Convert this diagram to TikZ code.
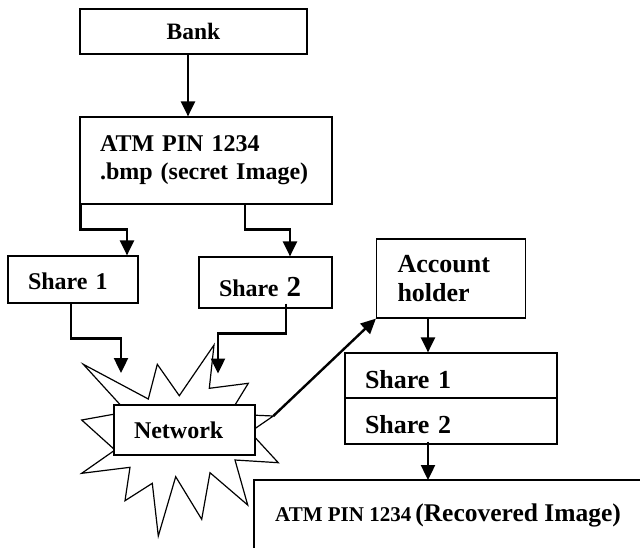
\documentclass[tikz,border=0pt]{standalone}
\usepackage{fontspec}
\setmainfont{Liberation Serif}
\usetikzlibrary{arrows.meta}
\newcommand\myfs[2]{\fontsize{#1}{#2}\selectfont}
\newcommand\shiftdown[2]{\raisebox{-#1pt}[\height][\depth]{#2}}
\begin{document}
\begin{tikzpicture}[x=1pt,y=-1pt,
  box/.style={draw, line width=1.2pt, inner sep=0pt, fill=white},
  lbox/.style={box, align=left, inner xsep=20pt},
  arr/.style={line width=2.4pt, line join=miter, -{Triangle[length=15pt,width=14pt]}},
  thin/.style={line width=1.2pt, line join=miter}]
\useasboundingbox (0,0) rectangle (640,547);
% boxes
\node[box, minimum width=227, minimum height=45, font=\bfseries\myfs{23.5}{28}] (bank) at (193.5,31.5) {Bank};
\node[lbox, minimum height=87, text width=212, font=\bfseries\myfs{24}{28}] (atm) at (206,160.5)
  {ATM PIN 1234\\.bmp (secret Image)};
\node[lbox, minimum height=47, text width=90, font=\bfseries\myfs{24}{28}] (share1) at (73,279.5) {\shiftdown{2}{Share 1}};
\node[lbox, minimum height=51, text width=93, font=\bfseries\myfs{24}{28}] (share2) at (265.5,282.5)
  {\shiftdown{5}{Share {\myfs{29}{30}2}}};
% network burst
\draw[thin, fill=white] (83.3,364.3) -- (148.3,399) -- (157.3,364.3) -- (179.3,395.7)
  -- (214,345) -- (209.3,388.3) -- (248.3,383.3) -- (235,405) -- (250,415)
  -- (273.3,416) -- (250,432) -- (278.3,462.7) -- (235,460) -- (247.7,505)
  -- (210,472.7) -- (201.7,519.3) -- (175.7,476.7) -- (158.3,536) -- (152.3,483.3)
  -- (125,500.7) -- (130,467.3) -- (81.7,473.3) -- (115,450) -- (81.7,420)
  -- (115,414) -- (125,410) -- cycle;
\coordinate (n1) at (121,373);
\coordinate (n2) at (218,373.5);
\coordinate (nr) at (273.3,416);
\node[lbox, minimum height=50, text width=101, font=\bfseries\myfs{24}{28}] (net) at (184.5,430) {Network};
\node[lbox, minimum height=79, text width=107, inner xsep=21pt, font=\bfseries\myfs{26}{29}] (acc) at (451,278.5)
  {Account\\holder};
\node[lbox, minimum height=45, text width=172, font=\bfseries\myfs{26}{29}] (s1) at (451,375.5) {\shiftdown{4}{Share 1}};
\node[lbox, minimum height=46, text width=172, font=\bfseries\myfs{26}{29}] (s2) at (451,421) {\shiftdown{4}{Share 2}};
% recovered image box (partly off the page)
\coordinate (recTL) at (254,480);
\draw[thin] (recTL -| 650,0) -- (recTL) -- (recTL |- 0,560);
\node[anchor=base west, inner sep=0pt, font=\bfseries\myfs{21}{24}] (rec) at (275,521)
  {ATM PIN 1234\hspace{4pt}{\myfs{25.5}{28}(Recovered Image)}};
% connectors
\draw[arr] ([xshift=-5.5pt]bank.south) -- ([xshift=-18pt]atm.north);
\draw[arr] ([xshift=1pt]atm.south west) -- ++(0,25) -| ([xshift=54pt]share1.north);
\draw[arr] ([xshift=39pt]atm.south) -- ++(0,25) -| ([xshift=24.5pt]share2.north);
\draw[arr] ([xshift=-2pt]share1.south) -- ++(0,35) -| (n1);
\draw[arr] ([xshift=20.5pt,yshift=5pt]share2.south) -- ++(0,30) -| (n2);
\draw[arr] (nr) -- (acc.south west);
\draw[arr] ([xshift=-23pt]acc.south) -- ([xshift=-23pt]s1.north);
\draw[arr] ([xshift=-23pt,yshift=3pt]s2.south) -- ([xshift=-23pt]s2.south |- recTL);
\end{tikzpicture}
\end{document}
